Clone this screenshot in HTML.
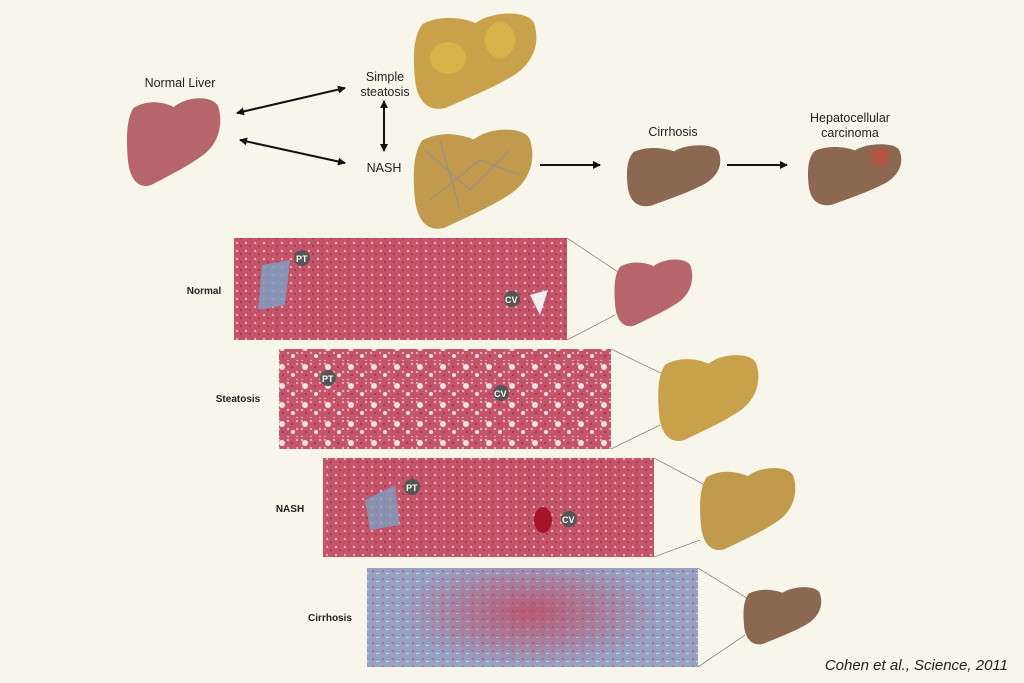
<!DOCTYPE html>
<html><head><meta charset="utf-8"><style>
html,body{margin:0;padding:0;background:#f8f6ea;}
svg{display:block}
text{font-family:"Liberation Sans",sans-serif;}
</style></head><body>
<svg width="1024" height="683" viewBox="0 0 1024 683" xmlns="http://www.w3.org/2000/svg">
<defs>
<path id="lv" d="M10,14 C24,5 40,7 52,13 C65,1 92,0 98,12 C104,32 98,52 84,64 C68,77 46,88 28,98 C15,102 6,92 4,70 C2,45 3,25 10,14 Z"/>
<marker id="ah" markerWidth="8" markerHeight="8" refX="7" refY="4" orient="auto-start-reverse" markerUnits="userSpaceOnUse"><path d="M0,0 L8,4 L0,8 Z" fill="#111"/></marker>
<pattern id="cells" width="9" height="8" patternUnits="userSpaceOnUse"><rect width="9" height="8" fill="#c45469"/><circle cx="3" cy="3" r="1.2" fill="#e7a9b6"/><circle cx="7" cy="6" r="0.9" fill="#8f2640"/></pattern>
<pattern id="fat" width="23" height="19" patternUnits="userSpaceOnUse"><rect width="23" height="19" fill="url(#cells)"/><circle cx="6" cy="6" r="3" fill="#f5e1e6"/><circle cx="17" cy="14" r="2" fill="#f5e1e6"/></pattern>
<pattern id="cir" width="10" height="8" patternUnits="userSpaceOnUse"><rect width="10" height="8" fill="#94a2c6"/><circle cx="3" cy="3" r="1.3" fill="#c4687c"/><rect x="6" y="5" width="3" height="1" fill="#cfd8ea"/></pattern>
<radialGradient id="circ" cx="0.5" cy="0.5" r="0.5"><stop offset="0" stop-color="#c63a4e" stop-opacity="0.7"/><stop offset="1" stop-color="#c63a4e" stop-opacity="0"/></radialGradient>
<clipPath id="cc"><rect x="367" y="568" width="331" height="99"/></clipPath>
</defs>

<use href="#lv" transform="translate(124,95) scale(0.96,0.92)" fill="#b6656b"/>
<use href="#lv" transform="translate(410,10) scale(1.26,1.0)" fill="#c9a14a"/>
<ellipse cx="448" cy="58" rx="18" ry="16" fill="#dcbc48" opacity=".7"/><ellipse cx="500" cy="40" rx="15" ry="18" fill="#dcbc48" opacity=".7"/>
<use href="#lv" transform="translate(410,126) scale(1.22,1.04)" fill="#c29a4e"/>
<g stroke="#7d87b8" stroke-width="1" fill="none" opacity=".7"><path d="M425,150 L470,190 L510,150 M430,200 L480,160 L520,175 M440,140 L460,210"/></g>
<use href="#lv" transform="translate(624,143) scale(0.96,0.64)" fill="#8c6853"/>
<use href="#lv" transform="translate(805,142) scale(0.96,0.64)" fill="#8c6853"/>
<circle cx="880" cy="157" r="9" fill="#b4553f"/>

<g font-size="12.5" fill="#222" text-anchor="middle">
<text x="180" y="87">Normal Liver</text>
<text x="385" y="81">Simple</text><text x="385" y="96">steatosis</text>
<text x="384" y="172">NASH</text>
<text x="673" y="136">Cirrhosis</text>
<text x="850" y="122">Hepatocellular</text><text x="850" y="137">carcinoma</text>
</g>
<g stroke="#111" stroke-width="2" marker-start="url(#ah)" marker-end="url(#ah)">
<line x1="237" y1="113" x2="345" y2="88"/>
<line x1="240" y1="140" x2="345" y2="163"/>
<line x1="384" y1="101" x2="384" y2="151"/>
</g>
<g stroke="#111" stroke-width="2" marker-end="url(#ah)">
<line x1="540" y1="165" x2="600" y2="165"/>
<line x1="727" y1="165" x2="787" y2="165"/>
</g>

<g stroke="#888" stroke-width="0.8">
<line x1="567" y1="238" x2="630" y2="280"/><line x1="567" y1="340" x2="615" y2="315"/>
<line x1="611" y1="349" x2="665" y2="375"/><line x1="611" y1="449" x2="660" y2="425"/>
<line x1="654" y1="458" x2="705" y2="485"/><line x1="654" y1="557" x2="700" y2="540"/>
<line x1="698" y1="568" x2="750" y2="600"/><line x1="698" y1="667" x2="745" y2="635"/>
</g>

<rect x="234" y="238" width="333" height="102" fill="url(#cells)"/>
<path d="M262,265 L290,260 L285,305 L258,310 Z" fill="#7aa3c6" opacity=".8"/>
<path d="M530,295 L548,290 L540,315 Z" fill="#f4eef0"/>
<rect x="279" y="349" width="332" height="100" fill="url(#fat)"/>
<rect x="323" y="458" width="331" height="99" fill="url(#cells)"/>
<path d="M365,500 L395,485 L400,525 L370,530 Z" fill="#7aa3c6" opacity=".75"/>
<ellipse cx="543" cy="520" rx="9" ry="13" fill="#a5142a"/>
<rect x="367" y="568" width="331" height="99" fill="url(#cir)"/>
<ellipse cx="530" cy="612" rx="130" ry="55" fill="url(#circ)" clip-path="url(#cc)"/>

<g font-size="9" font-weight="bold" fill="#fff">
<circle cx="302" cy="258" r="8" fill="#555"/><text x="296" y="262">PT</text>
<circle cx="512" cy="299" r="8" fill="#555"/><text x="505" y="303">CV</text>
<circle cx="328" cy="378" r="8" fill="#555"/><text x="322" y="382">PT</text>
<circle cx="501" cy="393" r="8" fill="#555"/><text x="494" y="397">CV</text>
<circle cx="412" cy="487" r="8" fill="#555"/><text x="406" y="491">PT</text>
<circle cx="569" cy="519" r="8" fill="#555"/><text x="562" y="523">CV</text>
</g>

<use href="#lv" transform="translate(612,257) scale(0.8,0.7)" fill="#b6656b"/>
<use href="#lv" transform="translate(655,352) scale(1.03,0.9)" fill="#c9a14a"/>
<use href="#lv" transform="translate(697,465) scale(0.98,0.86)" fill="#c29a4e"/>
<use href="#lv" transform="translate(741,585) scale(0.8,0.6)" fill="#8c6853"/>

<g font-size="10" font-weight="bold" fill="#222" text-anchor="middle">
<text x="204" y="294">Normal</text>
<text x="238" y="402">Steatosis</text>
<text x="290" y="512">NASH</text>
<text x="330" y="621">Cirrhosis</text>
</g>
<text x="1008" y="670" text-anchor="end" font-size="15" font-style="italic" fill="#222">Cohen et al., Science, 2011</text>
</svg>
</body></html>
